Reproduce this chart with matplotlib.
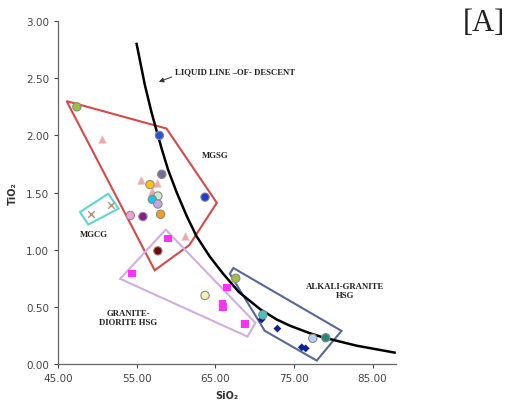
import matplotlib
matplotlib.use("Agg")
import matplotlib.pyplot as plt
from matplotlib.patches import Polygon

# Liquid line of descent (SiO2, TiO2)
lld_sio2 = [55.0, 56.05, 56.9, 57.5, 58.2, 59.0, 60.1, 61.4, 62.6, 64.3, 66.0, 68.0, 70.7, 72.8, 74.5, 77.0, 78.7, 83.0, 87.8]
lld_tio2 = [2.80, 2.44, 2.20, 2.05, 1.88, 1.70, 1.50, 1.29, 1.12, 0.94, 0.79, 0.63, 0.48, 0.39, 0.335, 0.27, 0.233, 0.16, 0.10]

# Field outlines
mgsg_sio2 = [46.1, 58.8, 65.2, 61.7, 57.3]
mgsg_tio2 = [2.30, 2.06, 1.41, 1.04, 0.82]
mgcg_sio2 = [47.8, 51.4, 52.7, 48.85]
mgcg_tio2 = [1.33, 1.49, 1.36, 1.22]
gd_sio2 = [52.9, 58.7, 70.1, 69.1]
gd_tio2 = [0.745, 1.175, 0.36, 0.24]
ag_sio2 = [67.3, 81.05, 77.9, 71.3, 66.85]
ag_tio2 = [0.84, 0.29, 0.03, 0.29, 0.79]

# Circle samples: SiO2, TiO2, colour
circ_sio2 = [47.4, 57.9, 58.2, 56.7, 57.7, 57.0, 57.7, 58.05, 54.2, 55.8, 63.7, 57.7, 63.7, 67.6, 71.05, 77.4, 79.05]
circ_tio2 = [2.25, 2.00, 1.66, 1.57, 1.47, 1.44, 1.40, 1.31, 1.30, 1.29, 1.46, 0.99, 0.60, 0.75, 0.43, 0.225, 0.23]
circ_col = ["#9ac43a", "#2a52d8", "#6f6f9c", "#ffc400", "#cdeec8", "#18c4e8", "#c4a6e8", "#f0a020",
            "#f2a2d2", "#8e1a8e", "#1c3ed8", "#7a0606", "#f4f2b0", "#9ac43a", "#3cc8c4", "#b4d2f0", "#1f8a76"]

# Triangle samples
tri_sio2 = [50.6, 55.5, 57.6, 56.9, 61.1]
tri_tio2 = [1.97, 1.61, 1.58, 1.51, 1.12]

# Square samples
sq_sio2 = [59.0, 54.4, 66.5, 65.9, 66.0, 68.8]
sq_tio2 = [1.10, 0.79, 0.67, 0.53, 0.50, 0.35]

# Diamond samples
dia_sio2 = [70.9, 72.9, 76.0, 76.5]
dia_tio2 = [0.39, 0.31, 0.146, 0.137]

# Cross samples
x_sio2 = [49.2, 51.7]
x_tio2 = [1.31, 1.39]

fig = plt.figure(figsize=(5.15, 4.02), dpi=100)
ax = fig.add_axes([0.1126, 0.092, 0.6566, 0.853])

for xs, ys, col in [(mgsg_sio2, mgsg_tio2, "#d94848"), (mgcg_sio2, mgcg_tio2, "#5ad8d0"),
                    (gd_sio2, gd_tio2, "#cfaee0"), (ag_sio2, ag_tio2, "#56689a")]:
    ax.add_patch(Polygon(list(zip(xs, ys)), closed=True, fill=False, edgecolor=col, lw=1.5,
                         joinstyle="miter", zorder=2))

ax.plot(lld_sio2, lld_tio2, color="black", lw=1.8, solid_joinstyle="round", zorder=3)

ax.scatter(x_sio2, x_tio2, marker="x", s=22, color="#b29272", lw=1.0, zorder=4)
ax.scatter(tri_sio2, tri_tio2, marker="^", s=30, color="#f3a6a6", edgecolors="#e8c8c8", lw=0.5, zorder=4)
ax.scatter(sq_sio2, sq_tio2, marker="s", s=28, color="#ff30ff", edgecolors="none", zorder=4)
ax.scatter(dia_sio2, dia_tio2, marker="D", s=16, color="#0f1f96", edgecolors="none", zorder=4)
ax.scatter(circ_sio2, circ_tio2, marker="o", s=36, c=circ_col, edgecolors="#8a8a8a", lw=0.8, zorder=5)

ax.annotate("", xy=(57.5, 2.46), xytext=(59.8, 2.52),
            arrowprops=dict(arrowstyle="-|>", color="#333333", lw=0.7, mutation_scale=7))

serif = dict(family="Liberation Serif", fontweight="bold", fontsize=6.3, color="#222222")
ax.text(59.9, 2.56, "LIQUID LINE –OF- DESCENT", ha="left", va="center", **serif)
ax.text(65.0, 1.83, "MGSG", ha="center", va="center", **serif)
ax.text(49.6, 1.14, "MGCG", ha="center", va="center", **serif)
ax.text(53.9, 0.41, "GRANITE-\nDIORITE HSG", ha="center", va="center", linespacing=1.2, **serif)
ax.text(81.5, 0.64, "ALKALI-GRANITE\nHSG", ha="center", va="center", linespacing=1.2, **serif)

fig.text(0.98, 0.977, "[A]", ha="right", va="top", family="Liberation Serif", fontsize=22, color="#222222")

ax.set_xlim(45, 88)
ax.set_ylim(0, 3.0)
ax.set_xticks([45, 55, 65, 75, 85])
ax.set_yticks([0, 0.5, 1.0, 1.5, 2.0, 2.5, 3.0])
ax.xaxis.set_major_formatter(matplotlib.ticker.FormatStrFormatter("%.2f"))
ax.yaxis.set_major_formatter(matplotlib.ticker.FormatStrFormatter("%.2f"))
ax.tick_params(labelsize=7.5, colors="#444444", length=3, width=0.8)
for s in ["top", "right"]:
    ax.spines[s].set_visible(False)
for s in ["left", "bottom"]:
    ax.spines[s].set_color("#666666")
    ax.spines[s].set_linewidth(0.9)

ax.set_xlabel("SiO₂", fontsize=7, fontweight="bold", color="#333333", labelpad=5)
ax.set_ylabel("TiO₂", fontsize=7, fontweight="bold", color="#333333", labelpad=6)

fig.savefig("out.png", dpi=100)
